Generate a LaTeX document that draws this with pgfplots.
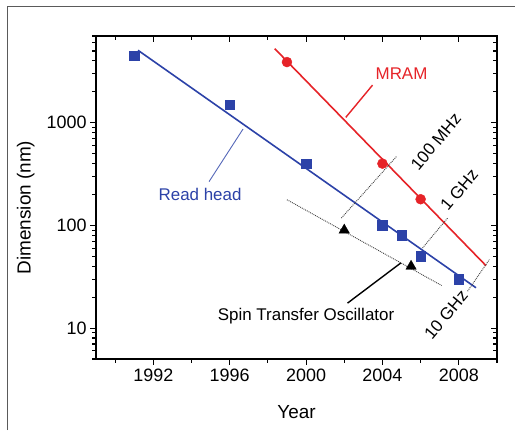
\documentclass[border=0pt]{standalone}
\usepackage{pgfplots}
\pgfplotsset{compat=1.18}
\usepackage{fontspec}
\setmainfont{Liberation Sans}
\definecolor{rhblue}{RGB}{44,66,168}
\definecolor{mred}{RGB}{230,35,40}
\definecolor{framegray}{RGB}{90,90,90}
\begin{document}
\begin{tikzpicture}[x=1bp,y=1bp]
\path[use as bounding box, fill=white] (0,0) rectangle (515,430);
\draw[framegray, line width=1bp] (7,0) -- (7,423) -- (515,423);
% main axis
\begin{axis}[
  at={(96bp,71bp)}, anchor=south west,
  scale only axis, width=401bp, height=323bp,
  xmin=1989, xmax=2010,
  ymode=log, ymin=5, ymax=7000,
  xtick={1992,1996,2000,2004,2008},
  minor xtick={1990,1994,1998,2002,2006,2010},
  ytick={10,100,1000}, yticklabels={10,100,1000},
  minor ytick={5,6,7,8,9,20,30,40,50,60,70,80,90,200,300,400,500,600,700,800,900,2000,3000,4000,5000,6000,7000},
  xticklabel style={/pgf/number format/1000 sep={}},
  /pgf/number format/assume math mode=true,
  xtick pos=left, ytick pos=left,
  tick align=outside,
  major tick length=6bp, minor tick length=4bp,
  every tick/.style={black, line width=1.1bp},
  axis line style={line width=1.4bp},
  ticklabel style={font=\fontsize{18}{20}\selectfont},
  label style={font=\fontsize{19}{22}\selectfont},
  xlabel={Year}, ylabel={Dimension (nm)},
  xlabel style={at={(axis description cs:0.5,-0.164)}, anchor=center},
  ylabel style={at={(axis description cs:-0.175,0.469)}, anchor=center},
  clip=false,
]
% fitted lines
\addplot[rhblue, line width=1.6bp, no marks] coordinates {(1991.2,5080) (2008.9,24.7)};
\addplot[mred, line width=1.6bp, no marks] coordinates {(1998.36,5270) (2009.42,40.6)};
\addplot[black!75, line width=0.9bp, densely dotted, no marks] coordinates {(1999,178) (2007.1,26)};
% frequency lines
\addplot[black!75, line width=0.9bp, densely dotted, no marks] coordinates {(2001.85,118) (2004.73,468)};
\addplot[black!75, line width=0.9bp, densely dotted, no marks] coordinates {(2006.1,60.3) (2007.41,118)};
\addplot[black!75, line width=0.9bp, densely dotted, no marks] coordinates {(2008.46,22.9) (2009.6,46.5)};
% data
\addplot[only marks, mark=square*, mark size=4.8bp, rhblue] coordinates {
(1991,4500) (1996,1500) (2000,400) (2004,100) (2005,80) (2006,50) (2008,30)};
\addplot[only marks, mark=*, mark size=5bp, mred] coordinates {
(1999,3900) (2004,400) (2006,180)};
\addplot[only marks, mark=triangle*, mark size=6bp, black] coordinates {
(2002,90) (2005.5,40)};
% annotations
\draw[mred, line width=1.4bp] (axis cs:2003.48,2323) -- (axis cs:2002.08,1128);
\node[mred, font=\fontsize{17}{20}\selectfont] at (axis cs:2005,3020) {MRAM};
\draw[rhblue!80, line width=0.9bp] (axis cs:1994.92,267) -- (axis cs:1996.7,869);
\node[rhblue, font=\fontsize{17}{20}\selectfont] at (axis cs:1994.45,199) {Read head};
\draw[black, line width=1.4bp] (axis cs:2002.17,17.5) -- (axis cs:2004.97,43.2);
\node[black, font=\fontsize{17}{20}\selectfont] at (axis cs:2000,13) {Spin Transfer Oscillator};
\node[black, rotate=50, font=\fontsize{17}{20}\selectfont] at (axis cs:2006.8,654) {100 MHz};
\node[black, rotate=50, font=\fontsize{17}{20}\selectfont] at (axis cs:2008.02,222) {1 GHz};
\node[black, rotate=50, font=\fontsize{17}{20}\selectfont] at (axis cs:2007.33,13.5) {10 GHz};
\end{axis}
% overlay axis for inward ticks on top and right
\begin{axis}[
  at={(96bp,71bp)}, anchor=south west,
  scale only axis, width=401bp, height=323bp,
  xmin=1989, xmax=2010,
  ymode=log, ymin=5, ymax=7000,
  xtick={1992,1996,2000,2004,2008},
  minor xtick={1990,1994,1998,2002,2006,2010},
  ytick={10,100,1000},
  minor ytick={5,6,7,8,9,20,30,40,50,60,70,80,90,200,300,400,500,600,700,800,900,2000,3000,4000,5000,6000,7000},
  xticklabels={}, yticklabels={},
  xtick pos=right, ytick pos=right,
  tick align=inside,
  major tick length=6bp, minor tick length=4bp,
  every tick/.style={black, line width=1.1bp},
  axis line style={line width=1.4bp},
]
\end{axis}
\end{tikzpicture}
\end{document}
